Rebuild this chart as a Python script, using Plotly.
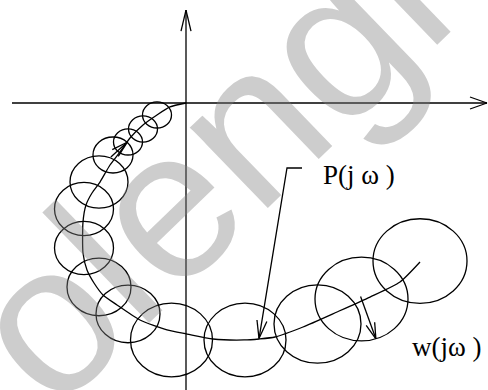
import numpy as np
import plotly.graph_objects as go

# Nominal frequency response P(jw): real / imaginary parts along the curve
p_re = [0.00, -0.16, -0.29, -0.43, -0.56, -0.66, -0.76, -0.86, -0.94, -1.00, -1.03,
        -1.03, -0.99, -0.92, -0.83, -0.69, -0.46, -0.19, 0.01, 0.27, 0.58, 0.73,
        0.89, 1.17, 1.51, 1.84, 2.14, 2.34]
p_im = [0.00, -0.044, -0.133, -0.244, -0.389, -0.544, -0.689, -0.878, -1.00, -1.133, -1.322,
        -1.667, -1.856, -2.00, -2.133, -2.244, -2.411, -2.522, -2.567, -2.622, -2.633, -2.622,
        -2.60, -2.489, -2.322, -2.156, -1.989, -1.767]

# Uncertainty discs: centre P(jw_k) and radius |w(jw_k)|
disc_re = [-0.29, -0.43, -0.58, -0.73, -0.87, -1.02, -1.02, -0.87, -0.58, -0.145, 0.59, 1.315, 1.755, 2.34]
disc_im = [-0.133, -0.289, -0.433, -0.578, -0.878, -1.178, -1.611, -2.044, -2.344, -2.633, -2.633, -2.456, -2.178, -1.756]
disc_r = [0.145, 0.145, 0.145, 0.20, 0.29, 0.295, 0.295, 0.32, 0.32, 0.41, 0.41, 0.435, 0.465, 0.47]

# Radius arrows: (disc index, direction in degrees)
radius_arrows = [(3, 45.0), (12, -72.0)]

# Leader for the P(jw) label: elbow start, elbow corner, tip on the curve
p_leader_re = [1.16, 1.01, 0.73]
p_leader_im = [-0.722, -0.722, -2.617]

# Plot window (complex plane) and the axes extents
x_range = [-1.86, 3.02]
y_range = [-3.1889, 1.1444]
re_axis = [-1.74, 3.01]
im_axis = [-3.19, 1.033]

W, H = 488, 390
SX = W / (x_range[1] - x_range[0])   # px per unit, real axis
SY = H / (y_range[1] - y_range[0])   # px per unit, imaginary axis

LW = 1.3
BLACK = "black"


def open_head(tail, tip, length=19.0, half=5.5):
    """Two strokes of an open 'V' arrowhead at tip, sized in screen pixels."""
    dx = (tip[0] - tail[0]) * SX
    dy = (tip[1] - tail[1]) * SY
    n = np.hypot(dx, dy)
    ux, uy = dx / n, dy / n
    px, py = -uy, ux
    xs, ys = [], []
    for s in (1, -1):
        bx = -ux * length + s * px * half
        by = -uy * length + s * py * half
        xs += [tip[0] + bx / SX, tip[0], None]
        ys += [tip[1] + by / SY, tip[1], None]
    return xs, ys


fig = go.Figure()


def add_line(xs, ys, spline=False):
    fig.add_trace(go.Scatter(
        x=xs, y=ys, mode="lines", hoverinfo="skip", showlegend=False,
        line=dict(color=BLACK, width=LW, shape="spline" if spline else "linear",
                  smoothing=0.6)))


# Axes with arrowheads
add_line(re_axis, [0, 0])
hx, hy = open_head((re_axis[0], 0), (re_axis[1], 0), length=17, half=6)
add_line(hx, hy)
add_line([0, 0], im_axis)
hx, hy = open_head((0, im_axis[0]), (0, im_axis[1]), length=21, half=5)
add_line(hx, hy)

# Nyquist curve
add_line(p_re, p_im, spline=True)

# Discs
for cx, cy, r in zip(disc_re, disc_im, disc_r):
    fig.add_shape(type="circle", xref="x", yref="y",
                  x0=cx - r, x1=cx + r, y0=cy - r, y1=cy + r,
                  line=dict(color=BLACK, width=LW), layer="above")

# Radius arrows
for k, ang in radius_arrows:
    c = (disc_re[k], disc_im[k])
    t = np.radians(ang)
    tip = (c[0] + disc_r[k] * np.cos(t), c[1] + disc_r[k] * np.sin(t))
    tail = (c[0] - 0.03 * np.cos(t), c[1] - 0.03 * np.sin(t))
    add_line([tail[0], tip[0]], [tail[1], tip[1]])
    hx, hy = open_head(tail, tip, length=16, half=4.5)
    add_line(hx, hy)

# P(jw) leader
add_line(p_leader_re, p_leader_im)
hx, hy = open_head((p_leader_re[1], p_leader_im[1]), (p_leader_re[2], p_leader_im[2]), length=18, half=5)
add_line(hx, hy)

serif = "Liberation Serif, Times New Roman, serif"
fig.add_annotation(x=1.725, y=-0.80, xref="x", yref="y", text="P(j ω )", showarrow=False,
                   font=dict(family=serif, size=27, color=BLACK), xanchor="center", yanchor="middle")
fig.add_annotation(x=2.61, y=-2.71, xref="x", yref="y", text="w(jω )", showarrow=False,
                   font=dict(family=serif, size=27, color=BLACK), xanchor="center", yanchor="middle")

# Site watermark
fig.add_annotation(x=206 / W, y=1 - 165 / H, xref="paper", yref="paper", text="olengi",
                   showarrow=False, textangle=-44,
                   font=dict(family="Liberation Sans, Arial, sans-serif", size=212,
                             color="rgba(130,130,130,0.4)"),
                   xanchor="center", yanchor="middle")

fig.update_layout(
    width=W, height=H, margin=dict(l=0, r=0, t=0, b=0),
    paper_bgcolor="white", plot_bgcolor="white", showlegend=False,
    xaxis=dict(range=x_range, visible=False, fixedrange=True),
    yaxis=dict(range=y_range, visible=False, fixedrange=True),
)

fig.write_html("out.html")
